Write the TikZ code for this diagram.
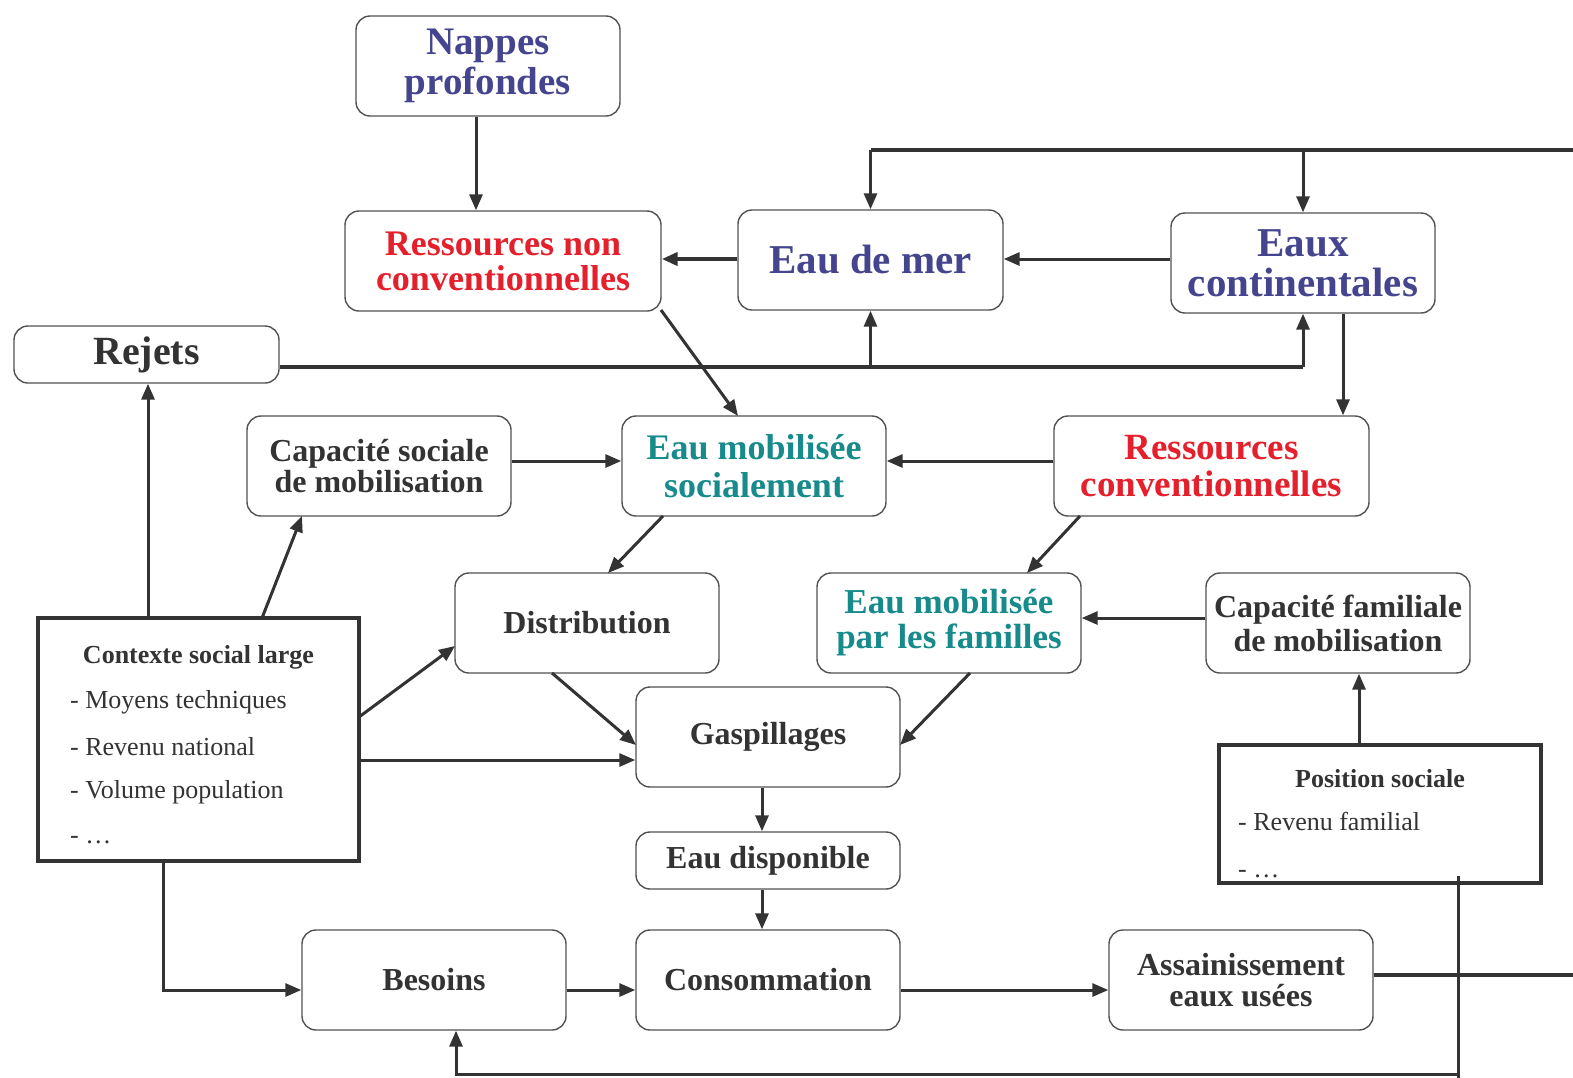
\documentclass[tikz,border=0pt]{standalone}
\usepackage{fontspec}
\setmainfont{Liberation Serif}
\usetikzlibrary{arrows.meta,calc}
\definecolor{nblue}{HTML}{45458F}
\definecolor{nred}{HTML}{E3202B}
\definecolor{nteal}{HTML}{178A8C}
\definecolor{ink}{HTML}{333333}
\newcommand{\fsz}[2]{\fontsize{#1}{#2}\selectfont}
\begin{document}
\begin{tikzpicture}[x=1pt,y=-1pt,
  box/.style={draw=ink!85, line width=1.4pt, rounded corners=14pt, fill=white,
    minimum width=264pt, minimum height=100pt, inner sep=0pt, align=center,
    font=\bfseries\fsz{32}{31}, text=ink},
  thickbox/.style={draw=ink, line width=4.5pt, fill=white, inner sep=0pt},
  conn/.style={draw=ink, line width=3pt, -{Triangle[length=16pt,width=13pt]}},
  plain/.style={draw=ink, line width=3pt},
  heavy/.style={draw=ink, line width=4.5pt},
  listitem/.style={anchor=base west, inner sep=0pt, text=ink, font=\fsz{26}{30}},
  listtitle/.style={anchor=base, inner sep=0pt, text=ink, font=\bfseries\fsz{26}{30}}]
\useasboundingbox (0,0) rectangle (1573,1077);
\fill[white] (0,0) rectangle (1573,1077);

% nodes
\node[box, text=nblue, font=\bfseries\fsz{39}{40}] (nappes) at (488,66) {Nappes\\profondes};
\node[box, minimum width=316pt, text=nred, font=\bfseries\fsz{36}{35}] (rnc) at (503,261) {Ressources non\\conventionnelles};
\node[box, minimum width=265pt, text=nblue, font=\bfseries\fsz{41}{40}] (mer) at (870.5,260) {Eau de mer};
\node[box, text=nblue, font=\bfseries\fsz{41}{40}] (cont) at (1303,263) {Eaux\\continentales};
\node[box, minimum width=265pt, minimum height=57pt, font=\bfseries\fsz{40}{40}] (rejets) at (146.5,354.5) {Rejets};
\node[box] (capsoc) at (379,466) {Capacité sociale\\de mobilisation};
\node[box, text=nteal, font=\bfseries\fsz{36}{38}] (ems) at (754,466) {Eau mobilisée\\socialement};
\node[box, minimum width=315pt, text=nred, font=\bfseries\fsz{37}{37}] (rc) at (1211.5,466) {Ressources\\conventionnelles};
\node[box] (distr) at (587,623) {Distribution};
\node[box, text=nteal, font=\bfseries\fsz{35}{35}] (emf) at (949,623) {Eau mobilisée\\par les familles};
\node[box, font=\bfseries\fsz{32}{34}] (capfam) at (1338,623) {Capacité familiale\\de mobilisation};
\node[box] (gasp) at (768,737) {Gaspillages};
\node[box, minimum height=57pt] (dispo) at (768,860.5) {Eau disponible};
\node[box] (besoins) at (434,980) {Besoins};
\node[box] (conso) at (768,980) {Consommation};
\node[box] (assain) at (1241,980) {Assainissement\\eaux usées};

\node[thickbox, minimum width=321pt, minimum height=243pt] (ctx) at (198.5,739.5) {};
\node[listtitle] (ctxt) at (198.5,663) {Contexte social large};
\node[listitem] (ctx1) at (70,708) {- Moyens techniques};
\node[listitem] (ctx2) at (70,755) {- Revenu national};
\node[listitem] (ctx3) at (70,798) {- Volume population};
\node[listitem] (ctx4) at (70,843) {- \dots};

\node[thickbox, minimum width=322pt, minimum height=138pt] (pos) at (1380,814) {};
\node[listtitle] (post) at (1380,787) {Position sociale};
\node[listitem] (pos1) at (1238,830) {- Revenu familial};
\node[listitem] (pos2) at (1238,877) {- \dots};

% connectors
\draw[conn] ($(nappes.south)+(-12,0)$) -- (rnc.north -| {$(nappes.south)+(-12,0)$});
\draw[conn, line width=4pt] (mer.west |- 0,259) -- (rnc.east |- 0,259);
\draw[conn] (cont.west |- 0,259) -- (mer.east |- 0,259);

\coordinate (topR) at (1573,150);
\draw[heavy] (topR) -- (mer.north |- topR);
\draw[conn] (mer.north |- topR) -- (mer.north);
\draw[conn] (cont.north |- topR) -- (cont.north);

\coordinate (rejR) at (1303,367);
\draw[heavy] (rejets.east |- rejR) -- (rejR);
\draw[conn] (rejR) -- (cont.south);
\draw[conn] (mer.south |- rejR) -- (mer.south);

\draw[conn] (661,310) -- (738,416);
\draw[conn] ($(cont.south)+(40,0)$) -- (rc.north -| {$(cont.south)+(40,0)$});
\draw[conn] (rc.west |- 0,461) -- (ems.east |- 0,461);
\draw[conn] (capsoc.east |- 0,461) -- (ems.west |- 0,461);
\draw[conn] (663,516) -- (608,573);
\draw[conn] (1080,516) -- (1027,573);
\draw[conn] (capfam.west |- 0,618) -- (emf.east |- 0,618);
\draw[conn] (pos.north -| 1359,0) -- (capfam.south -| 1359,0);

\draw[conn] (ctx.north -| 148,0) -- (rejets.south -| 148,0);
\draw[conn] (262,618) -- (302,516);
\draw[conn] (359,717) -- (455,646);
\draw[conn] (ctx.east |- 0,760) -- (gasp.west |- 0,760);
\draw[conn] (552,673) -- (636,745);
\draw[conn] (970,673) -- (900,745);
\draw[conn] (gasp.south -| 762,0) -- (dispo.north -| 762,0);
\draw[conn] (dispo.south -| 762,0) -- (conso.north -| 762,0);
\draw[conn] (ctx.south -| 163,0) -- (163,990) -- (besoins.west |- 0,990);
\draw[conn] (besoins.east |- 0,990) -- (conso.west |- 0,990);
\draw[conn] (conso.east |- 0,990) -- (assain.west |- 0,990);
\draw[heavy] (assain.east |- 0,975) -- (1573,975);
\draw[plain, line cap=rect] (1458,877) -- (1458,1077);
\draw[conn] (1458,1074) -- (456,1074) -- (besoins.south -| 456,0);
\end{tikzpicture}
\end{document}
